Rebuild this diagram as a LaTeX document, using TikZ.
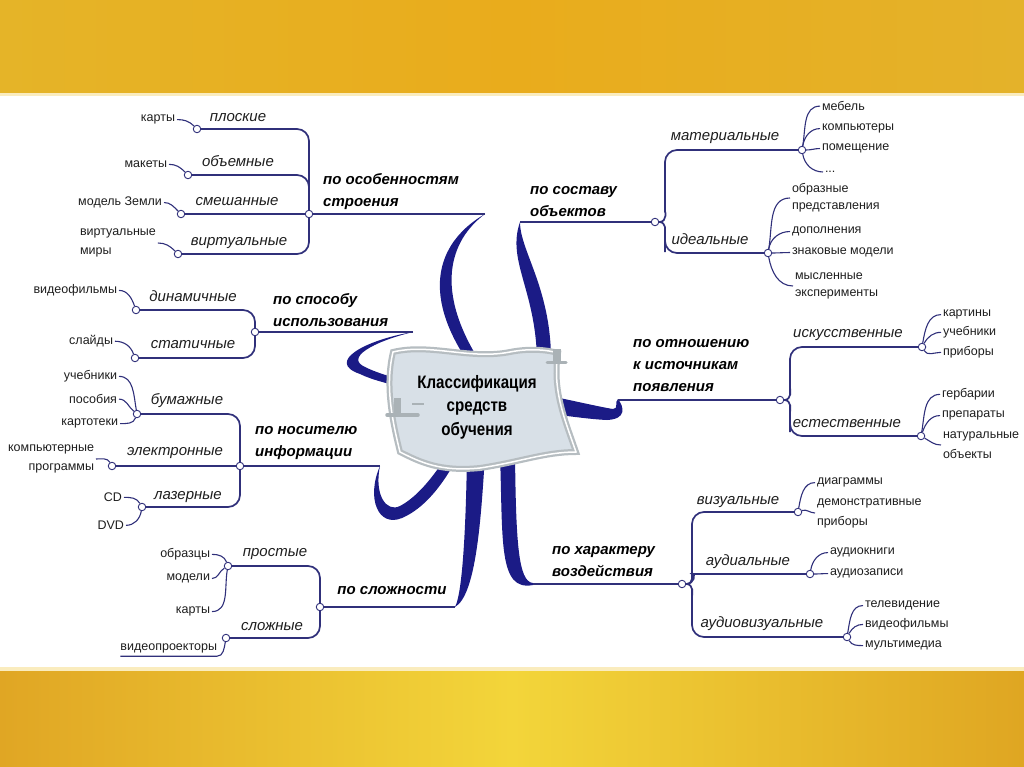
\documentclass[tikz,border=0pt]{standalone}
\usepackage{fontspec}
\setmainfont{Liberation Sans}
\newfontfamily\narrowfont[FakeStretch=0.84]{Liberation Sans}
\definecolor{cBr}{RGB}{27,27,134}
\definecolor{cLn}{RGB}{48,48,122}
\definecolor{cTx}{RGB}{30,30,30}
\definecolor{cBoxF}{RGB}{216,224,231}
\definecolor{cBoxL}{RGB}{182,189,193}
\definecolor{cKnob}{RGB}{170,178,182}
\definecolor{tL}{RGB}{229,180,40}
\definecolor{tM}{RGB}{233,172,28}
\definecolor{tR}{RGB}{228,178,42}
\definecolor{bL}{RGB}{224,166,36}
\definecolor{bM}{RGB}{243,213,58}
\definecolor{bR}{RGB}{223,166,34}
\definecolor{cSep}{RGB}{250,236,190}
\begin{document}
\begin{tikzpicture}[x=1pt,y=-1pt,
  leaf/.style={font=\fontsize{12.5}{19}\selectfont, text=cTx, inner sep=0pt, outer sep=2pt},
  cat/.style={font=\fontsize{15}{18}\selectfont\itshape, text=cTx, inner sep=0pt, anchor=mid},
  hd/.style={font=\fontsize{15}{22}\selectfont\bfseries\itshape, text=black, inner sep=0pt, align=left, anchor=west},
  dot/.style={circle, draw=cLn, fill=white, line width=0.9pt, inner sep=0pt, minimum size=7.5pt},
  ln/.style={draw=cLn, line width=1.7pt, rounded corners=12pt},
  lf/.style={draw=cLn, line width=1.1pt},
  brf/.style={fill=cBr}]
\useasboundingbox (0,0) rectangle (1024,767);
% background bands
\shade[left color=tL, right color=tR, middle color=tM] (0,0) rectangle (1024,94);
\shade[left color=bL, right color=bR, middle color=bM] (0,670) rectangle (1024,767);
\fill[cSep] (0,93) rectangle (1024,96);
\fill[cSep] (0,667) rectangle (1024,671);

% thick branches
\fill[brf] (485,214) .. controls (440,240) and (418,290) .. (470,365) -- (482,365) .. controls (433,290) and (450,240) .. (485,214) -- cycle;
\fill[brf] (520,222) .. controls (506,262) and (538,292) .. (537,368) -- (551,368) .. controls (553,290) and (520,252) .. (520,222) -- cycle;
\fill[brf] (413,332) .. controls (365,340) and (325,362) .. (360,374) .. controls (372,380) and (390,384) .. (405,388) -- (405,380) .. controls (390,377) and (375,372) .. (365,367) .. controls (345,358) and (372,342) .. (413,332) -- cycle;
\fill[brf] (380,466) .. controls (366,498) and (378,528) .. (402,518) .. controls (425,508) and (442,485) .. (455,462) -- (444,460) .. controls (432,478) and (417,497) .. (400,506) .. controls (386,513) and (374,494) .. (380,466) -- cycle;
\fill[brf] (455,607) .. controls (463,592) and (466,520) .. (467,455) -- (485,455) .. controls (481,520) and (476,595) .. (455,607) -- cycle;
\fill[brf] (500,455) .. controls (503,540) and (498,592) .. (533,585) -- (533,583) .. controls (518,582) and (516,540) .. (515,455) -- cycle;
\fill[brf] (545,395) .. controls (575,401) and (600,407) .. (613,409) .. controls (619,409) and (614,402) .. (618,399) .. controls (624,407) and (627,419) .. (607,420) .. controls (585,419) and (565,415) .. (545,414) -- cycle;

% central scroll
\path[fill=cBoxF, draw=cBoxL, line width=6pt] (393,352) .. controls (430,343) and (470,360) .. (510,352) .. controls (530,348) and (548,350) .. (558,353) .. controls (552,390) and (565,420) .. (576,452) .. controls (545,452) and (520,462) .. (480,468) .. controls (440,472) and (420,462) .. (400,452) .. controls (392,420) and (385,385) .. (393,352) -- cycle;
\draw[white, line width=1.5pt] (393,352) .. controls (430,343) and (470,360) .. (510,352) .. controls (530,348) and (548,350) .. (558,353) .. controls (552,390) and (565,420) .. (576,452) .. controls (545,452) and (520,462) .. (480,468) .. controls (440,472) and (420,462) .. (400,452) .. controls (392,420) and (385,385) .. (393,352) -- cycle;
\fill[cKnob] (394,398) rectangle (401,413);
\draw[cKnob, line width=3.5pt, line cap=round] (387,415) -- (418,415);
\draw[cKnob, line width=1.5pt] (412,404) -- (424,404);
\fill[cKnob] (553,349) rectangle (561,361);
\draw[cKnob, line width=3pt, line cap=round] (547,362) -- (566,362);
\node[font=\narrowfont\bfseries\fontsize{18}{23.5}\selectfont, align=center, inner sep=0pt] (root) at (477,407) {Классификация\\средств\\обучения};

% ===== Group A: по особенностям строения
\node[dot] (jA) at (309,214) {};
\coordinate (tA) at (485,214);
\draw[ln] (jA) -- (tA);
\node[hd] (hA) at (323,192) {по особенностям\\строения};
\node[cat] (a1) at (238,119) {плоские};
\node[cat] (a2) at (238,164) {объемные};
\node[cat] (a3) at (237,203) {смешанные};
\node[cat] (a4) at (239,243) {виртуальные};
\node[dot] (ca1) at (197,129) {};
\node[dot] (ca2) at (188,175) {};
\node[dot] (ca3) at (181,214) {};
\node[dot] (ca4) at (178,254) {};
\draw[ln] (ca1) -| (jA);
\draw[ln] (ca2) -| (jA);
\draw[ln] (ca3) -- (jA);
\draw[ln] (ca4) -| (jA);
\node[leaf, anchor=mid east] (la1) at (177,119) {карты};
\node[leaf, anchor=mid east] (la2) at (169,165) {макеты};
\node[leaf, anchor=mid east] (la3) at (164,203) {модель Земли};
\node[leaf, anchor=west, align=left] (la4) at (78,243) {виртуальные\\миры};
\draw[lf] (la1) to[out=0,in=135] (ca1);
\draw[lf] (la2) to[out=0,in=135] (ca2);
\draw[lf] (la3) to[out=0,in=135] (ca3);
\draw[lf] (la4) to[out=0,in=135] (ca4);

% ===== Group B: по способу использования
\node[dot] (jB) at (255,332) {};
\coordinate (tB) at (413,332);
\draw[ln] (jB) -- (tB);
\node[hd] (hB) at (273,310) {по способу\\использования};
\node[cat] (b1) at (193,299) {динамичные};
\node[cat] (b2) at (193,346) {статичные};
\node[dot] (cb1) at (136,310) {};
\node[dot] (cb2) at (135,358) {};
\draw[ln] (cb1) -| (jB);
\draw[ln] (cb2) -| (jB);
\node[leaf, anchor=mid east] (lb1) at (119,291) {видеофильмы};
\node[leaf, anchor=mid east] (lb2) at (115,342) {слайды};
\draw[lf] (lb1) to[out=0,in=110] (cb1);
\draw[lf] (lb2) to[out=0,in=110] (cb2);

% ===== Group C: по носителю информации
\node[dot] (jC) at (240,466) {};
\coordinate (tC) at (380,466);
\draw[ln] (jC) -- (tC);
\node[hd] (hC) at (255,443) {по носителю\\информации};
\node[cat] (c1) at (187,402) {бумажные};
\node[cat] (c2) at (175,453) {электронные};
\node[cat] (c3) at (188,497) {лазерные};
\node[dot] (cc1) at (137,414) {};
\node[dot] (cc2) at (112,466) {};
\node[dot] (cc3) at (142,507) {};
\draw[ln] (cc1) -| (jC);
\draw[ln] (cc2) -- (jC);
\draw[ln] (cc3) -| (jC);
\node[leaf, anchor=mid east] (lc1) at (119,377) {учебники};
\node[leaf, anchor=mid east] (lc2) at (119,401) {пособия};
\node[leaf, anchor=mid east] (lc3) at (120,423) {картотеки};
\node[leaf, anchor=east, align=right] (lc4) at (96,459) {компьютерные\\программы};
\node[leaf, anchor=mid east] (lc5) at (124,499) {CD};
\node[leaf, anchor=mid east] (lc6) at (126,527) {DVD};
\draw[lf] (lc1) to[out=0,in=100] (cc1);
\draw[lf] (lc2) to[out=0,in=140] (cc1);
\draw[lf] (lc3) to[out=0,in=-110] (cc1);
\draw[lf] (lc4) to[out=0,in=120] (cc2);
\draw[lf] (lc5) to[out=0,in=120] (cc3);
\draw[lf] (lc6) to[out=0,in=-100] (cc3);

% ===== Group D: по сложности
\node[dot] (jD) at (320,607) {};
\coordinate (tD) at (455,607);
\draw[ln] (jD) -- (tD);
\node[hd, anchor=mid] (hD) at (392,592) {по сложности};
\node[cat] (d1) at (275,554) {простые};
\node[cat] (d2) at (272,628) {сложные};
\node[dot] (cd1) at (228,566) {};
\node[dot] (cd2) at (226,638) {};
\draw[ln] (cd1) -| (jD);
\draw[ln] (cd2) -| (jD);
\node[leaf, anchor=mid east] (ld1) at (212,555) {образцы};
\node[leaf, anchor=mid east] (ld2) at (212,578) {модели};
\node[leaf, anchor=mid east] (ld3) at (212,611) {карты};
\node[leaf, anchor=mid east, inner ysep=3pt, outer sep=0pt] (ld4) at (217,648) {видеопроекторы};
\draw[lf] (ld1) to[out=0,in=110] (cd1);
\draw[lf] (ld2) to[out=0,in=-150] (cd1);
\draw[lf] (ld3) to[out=0,in=-100] (cd1);
\draw[lf] (ld4.south west) -- (ld4.south east) to[out=0,in=-100] (cd2);

% ===== Group E: по составу объектов
\node[dot] (jE) at (655,222) {};
\coordinate (tE) at (520,222);
\draw[ln] (tE) -- (jE);
\node[hd] (hE) at (530,202) {по составу\\объектов};
\node[cat] (e1) at (725,138) {материальные};
\node[cat] (e2) at (710,242) {идеальные};
\node[dot] (ce1) at (802,150) {};
\node[dot] (ce2) at (768,253) {};
\coordinate (kE1) at (665,200);
\coordinate (kE2) at (665,240);
\draw[ln] (jE) to[out=0,in=-90] (kE1) |- (ce1);
\draw[ln] (jE) to[out=0,in=90] (kE2) |- (ce2);
\node[leaf, anchor=mid west] (le1) at (820,108) {мебель};
\node[leaf, anchor=mid west] (le2) at (820,128) {компьютеры};
\node[leaf, anchor=mid west] (le3) at (820,148) {помещение};
\node[leaf, anchor=mid west] (le4) at (823,170) {...};
\node[leaf, anchor=west, align=left, font=\fontsize{12.5}{17}\selectfont] (le5) at (790,198) {образные\\представления};
\node[leaf, anchor=mid west] (le6) at (790,231) {дополнения};
\node[leaf, anchor=mid west] (le7) at (790,252) {знаковые модели};
\node[leaf, anchor=west, align=left, font=\fontsize{12.5}{17}\selectfont] (le8) at (793,286) {мысленные\\эксперименты};
\draw[lf] (ce1) to[out=80,in=180] (le1);
\draw[lf] (ce1) to[out=80,in=180] (le2);
\draw[lf] (ce1) to[out=0,in=180] (le3);
\draw[lf] (ce1) to[out=-80,in=180] (le4);
\draw[lf] (ce2) to[out=80,in=180] (le5);
\draw[lf] (ce2) to[out=80,in=180] (le6);
\draw[lf] (ce2) to[out=0,in=180] (le7);
\draw[lf] (ce2) to[out=-80,in=180] (le8);

% ===== Group F: по отношению к источникам появления
\node[dot] (jF) at (780,400) {};
\coordinate (tF) at (618,400);
\draw[ln] (tF) -- (jF);
\node[hd] (hF) at (633,366) {по отношению\\к источникам\\появления};
\node[cat] (f1) at (848,335) {искусственные};
\node[cat] (f2) at (847,425) {естественные};
\node[dot] (cf1) at (922,347) {};
\node[dot] (cf2) at (921,436) {};
\coordinate (kF1) at (790,380);
\coordinate (kF2) at (790,420);
\draw[ln] (jF) to[out=0,in=-90] (kF1) |- (cf1);
\draw[ln] (jF) to[out=0,in=90] (kF2) |- (cf2);
\node[leaf, anchor=mid west] (lf1) at (941,314) {картины};
\node[leaf, anchor=mid west] (lf2) at (941,333) {учебники};
\node[leaf, anchor=mid west] (lf3) at (941,353) {приборы};
\node[leaf, anchor=mid west] (lf4) at (940,395) {гербарии};
\node[leaf, anchor=mid west] (lf5) at (940,415) {препараты};
\node[leaf, anchor=west, align=left, font=\fontsize{12.5}{20}\selectfont] (lf6) at (941,445) {натуральные\\объекты};
\draw[lf] (cf1) to[out=80,in=180] (lf1);
\draw[lf] (cf1) to[out=60,in=180] (lf2);
\draw[lf] (cf1) to[out=-60,in=180] (lf3);
\draw[lf] (cf2) to[out=80,in=180] (lf4);
\draw[lf] (cf2) to[out=70,in=180] (lf5);
\draw[lf] (cf2) to[out=-30,in=180] (lf6);

% ===== Group G: по характеру воздействия
\node[dot] (jG) at (682,584) {};
\coordinate (tG) at (533,584);
\draw[ln] (tG) -- (jG);
\node[hd] (hG) at (552,562) {по характеру\\воздействия};
\node[cat] (g1) at (738,502) {визуальные};
\node[cat] (g2) at (748,563) {аудиальные};
\node[cat] (g3) at (762,625) {аудиовизуальные};
\node[dot] (cg1) at (798,512) {};
\node[dot] (cg2) at (810,574) {};
\node[dot] (cg3) at (847,637) {};
\coordinate (kG1) at (692,564);
\coordinate (kG2) at (704,574);
\coordinate (kG3) at (692,604);
\draw[ln] (jG) to[out=0,in=-90] (kG1) |- (cg1);
\draw[ln] (jG) to[out=0,in=180] (kG2) -- (cg2);
\draw[ln] (jG) to[out=0,in=90] (kG3) |- (cg3);
\node[leaf, anchor=mid west] (lg1) at (815,482) {диаграммы};
\node[leaf, anchor=west, align=left, font=\fontsize{12.5}{20}\selectfont] (lg2) at (815,513) {демонстративные\\приборы};
\node[leaf, anchor=mid west] (lg3) at (828,552) {аудиокниги};
\node[leaf, anchor=mid west] (lg4) at (828,573) {аудиозаписи};
\node[leaf, anchor=mid west] (lg5) at (863,605) {телевидение};
\node[leaf, anchor=mid west] (lg6) at (863,625) {видеофильмы};
\node[leaf, anchor=mid west] (lg7) at (863,645) {мультимедиа};
\draw[lf] (cg1) to[out=80,in=180] (lg1);
\draw[lf] (cg1) to[out=20,in=180] (lg2);
\draw[lf] (cg2) to[out=80,in=180] (lg3);
\draw[lf] (cg2) to[out=0,in=180] (lg4);
\draw[lf] (cg3) to[out=80,in=180] (lg5);
\draw[lf] (cg3) to[out=60,in=180] (lg6);
\draw[lf] (cg3) to[out=-60,in=180] (lg7);
\end{tikzpicture}
\end{document}
